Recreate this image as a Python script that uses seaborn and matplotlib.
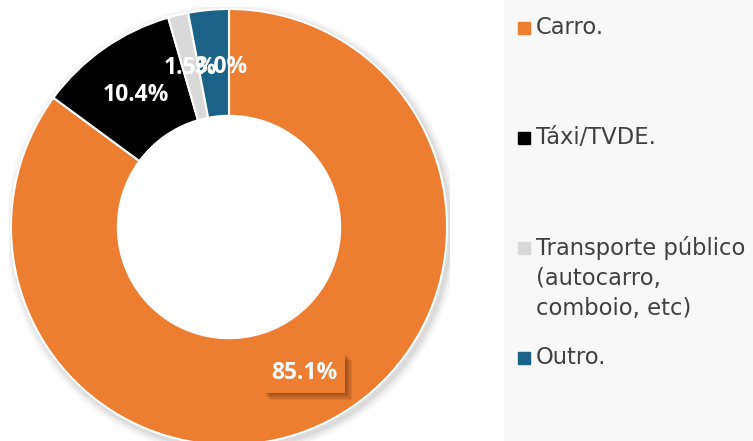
import matplotlib
matplotlib.use("Agg")
import matplotlib.pyplot as plt
import matplotlib.patheffects as pe
import seaborn as sns
import numpy as np

categories = ["Carro.", "Táxi/TVDE.", "Transporte público\n(autocarro,\ncomboio, etc)", "Outro."]
values = [85.1, 10.4, 1.5, 3.0]
labels = ["85.1%", "10.4%", "1.5%", "3.0%"]
colors = ["#ED7D31", "#000000", "#D9D9D9", "#1A6286"]

sns.set_theme(style="white")
plt.rcParams["font.family"] = ["DejaVu Sans"]

W, H = 753, 441
fig = plt.figure(figsize=(W / 100, H / 100), dpi=100)
fig.patch.set_facecolor("white")

# legend panel background
bg = fig.add_axes([504 / W, 0, (W - 504) / W, 1])
bg.set_facecolor("#F8F8F8")
bg.set_xticks([]); bg.set_yticks([])
for s in bg.spines.values():
    s.set_visible(False)

cx, cy, R = 229, 227, 218
half = 220.5
ax = fig.add_axes([(cx - half) / W, (H - cy - half) / H, 2 * half / W, 2 * half / H])

# soft shadow
for i, a in enumerate([0.05, 0.04, 0.03, 0.02]):
    ax.add_patch(plt.Circle((0.012, -0.015), 1.0 + 0.01 * (i + 1), color="black", alpha=a, lw=0, zorder=0))

wedges, _ = ax.pie(values, colors=colors, startangle=90, counterclock=False,
                   radius=1.0, wedgeprops=dict(width=0.49, edgecolor="white", linewidth=1.5))
for w in wedges:
    w.set_zorder(2)
ax.add_patch(plt.Circle((0, 0), 0.51, color="white", zorder=1))

lim = half / R
ax.set_xlim(-lim, lim); ax.set_ylim(-lim, lim)
ax.set_aspect("equal")
ax.axis("off")

def px(x, y):
    return ((x - cx) / R, (cy - y) / R)

soft = [pe.SimplePatchShadow(offset=(o, -o), alpha=0.07, shadow_rgbFace="#000000") for o in (1, 2, 3, 4, 5)]

label_pos = [(304, 373), (136, 95), (190, 68), (221, 67)]
for i, (lab, (x, y)) in enumerate(zip(labels, label_pos)):
    dx, dy = px(x, y)
    kw = dict(ha="center", va="center", color="white", fontsize=16.5, fontweight="bold",
              family=["Open Sans", "DejaVu Sans"], zorder=5)
    if i == 0:
        t = ax.text(dx, dy, lab, bbox=dict(boxstyle="square,pad=0.35", fc=colors[0], ec="none"), **kw)
        t.get_bbox_patch().set_path_effects(soft + [pe.Normal()])
    else:
        ax.text(dx, dy, lab, **kw)

# legend
leg_y = [28, 138, 248, 358]
for cat, col, y in zip(categories, colors, leg_y):
    fig.patches.append(plt.Rectangle((518 / W, (H - y - 6) / H), 12 / W, 12 / H,
                                     transform=fig.transFigure, color=col, figure=fig))
    if "\n" in cat:
        fig.text(536 / W, (H - y + 12) / H, cat, ha="left", va="top",
                 fontsize=16.3, color="#404040", linespacing=1.38)
    else:
        fig.text(536 / W, (H - y) / H, cat, ha="left", va="center",
                 fontsize=16.3, color="#404040")

fig.savefig("out.png", dpi=100, facecolor="white")
